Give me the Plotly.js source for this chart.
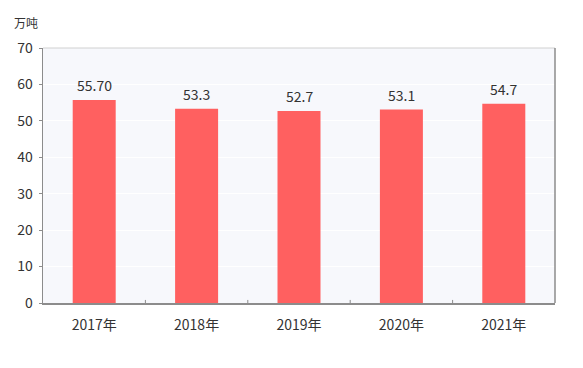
<!DOCTYPE html>
<html><head><meta charset="utf-8">
<script src="https://cdn.plot.ly/plotly-3.0.1.min.js"></script>
<style>html,body{margin:0;padding:0;background:#fff;}#chart{width:583px;height:368px;}</style>
</head><body><div id="chart"></div>
<script>
const categories = ['2017年','2018年','2019年','2020年','2021年'];
const values = [55.70, 53.3, 52.7, 53.1, 54.7];
const valueLabels = ['55.70','53.3','52.7','53.1','54.7'];
const yTicks = [0,10,20,30,40,50,60,70];
const unitLabel = '万吨';

const fam = '"Microsoft YaHei", "Noto Sans CJK SC", "DejaVu Sans", sans-serif';
const font = {family: fam, size: 14, color: '#333333'};

const valueAnnotations = categories.map((c, i) => ({
  x: c, y: values[i], xref: 'x', yref: 'y',
  text: valueLabels[i], showarrow: false,
  yanchor: 'bottom', yshift: 3,
  font: {family: fam, size: 14, color: '#333333'}
}));

Plotly.newPlot('chart', [{
  type: 'bar',
  x: categories,
  y: values,
  marker: {color: '#FF6060'},
  width: 0.42,
  hoverinfo: 'none'
}], {
  width: 583, height: 368,
  margin: {l: 43, r: 28, t: 48, b: 65},
  paper_bgcolor: '#ffffff',
  plot_bgcolor: '#F7F8FC',
  font: font,
  showlegend: false,
  xaxis: {
    type: 'category',
    showline: true, linecolor: '#8c8c8c', linewidth: 1.5,
    ticks: '', showgrid: false,
    tickfont: font,
    ticklabelstandoff: 9,
    fixedrange: true
  },
  yaxis: {
    range: [0, 70],
    tickvals: yTicks,
    showline: true, linecolor: '#8c8c8c', linewidth: 1.5,
    ticks: 'outside', ticklen: 3, tickcolor: '#8c8c8c',
    gridcolor: '#ffffff', gridwidth: 1,
    zeroline: false,
    tickfont: font,
    ticklabelstandoff: 3,
    fixedrange: true
  },
  shapes: [
    {type: 'line', xref: 'paper', yref: 'paper', x0: 0, x1: 1, y0: 1, y1: 1, line: {color: '#d0d0d0', width: 1}},
    {type: 'line', xref: 'paper', yref: 'paper', x0: 1, x1: 1, y0: 0, y1: 1, line: {color: '#8c8c8c', width: 1.5}},
    {type: 'line', xref: 'paper', yref: 'paper', x0: 0.2, x1: 0.2, y0: 0, y1: 0.012, line: {color: '#8c8c8c', width: 1}},
    {type: 'line', xref: 'paper', yref: 'paper', x0: 0.4, x1: 0.4, y0: 0, y1: 0.012, line: {color: '#8c8c8c', width: 1}},
    {type: 'line', xref: 'paper', yref: 'paper', x0: 0.6, x1: 0.6, y0: 0, y1: 0.012, line: {color: '#8c8c8c', width: 1}},
    {type: 'line', xref: 'paper', yref: 'paper', x0: 0.8, x1: 0.8, y0: 0, y1: 0.012, line: {color: '#8c8c8c', width: 1}}
  ],
  annotations: valueAnnotations.concat([{
    text: unitLabel, xref: 'paper', yref: 'paper', x: 0, y: 1,
    xshift: -31, yshift: 26, xanchor: 'left', yanchor: 'middle',
    showarrow: false, font: {family: fam, size: 12, color: '#333333'}
  }])
}, {displayModeBar: false, staticPlot: true});
</script>
</body></html>
